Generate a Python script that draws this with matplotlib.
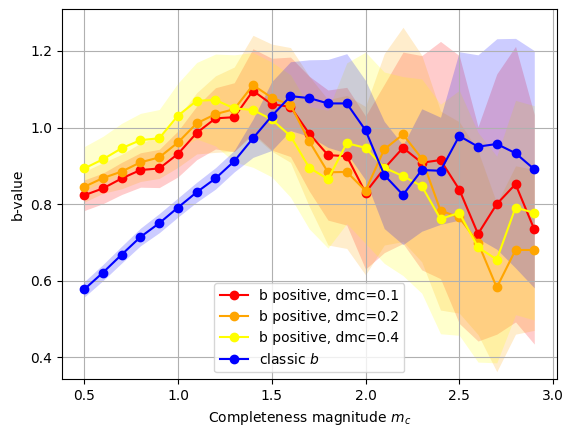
import numpy as np
import matplotlib
matplotlib.use('Agg')
import matplotlib.pyplot as plt

mc = [0.5, 0.6, 0.7, 0.8, 0.9, 1.0, 1.1, 1.2, 1.3, 1.4, 1.5, 1.6, 1.7,
      1.8, 1.9, 2.0, 2.1, 2.2, 2.3, 2.4, 2.5, 2.6, 2.7, 2.8, 2.9]

# b positive, dmc=0.1
b_pos_01 = [0.823, 0.841, 0.867, 0.889, 0.893, 0.931, 0.986, 1.024, 1.027, 1.096,
            1.061, 1.054, 0.984, 0.928, 0.925, 0.830, 0.893, 0.947, 0.908, 0.915,
            0.838, 0.722, 0.800, 0.852, 0.734]
std_01 = [0.04, 0.04, 0.042, 0.045, 0.05, 0.06, 0.07, 0.08, 0.09, 0.11, 0.12, 0.13,
          0.15, 0.17, 0.18, 0.20, 0.22, 0.25, 0.28, 0.31, 0.35, 0.28, 0.34, 0.36, 0.30]

# b positive, dmc=0.2
b_pos_02 = [0.845, 0.868, 0.885, 0.909, 0.922, 0.961, 1.011, 1.035, 1.048, 1.111,
            1.078, 1.059, 0.964, 0.883, 0.884, 0.835, 0.943, 0.982, 0.919, 0.783,
            0.765, 0.699, 0.582, 0.680, 0.680]
std_02 = [0.04, 0.04, 0.045, 0.05, 0.055, 0.065, 0.08, 0.10, 0.11, 0.13, 0.14, 0.15,
          0.17, 0.19, 0.20, 0.22, 0.25, 0.28, 0.27, 0.26, 0.25, 0.24, 0.22, 0.22, 0.21]

# b positive, dmc=0.4
b_pos_04 = [0.893, 0.917, 0.946, 0.967, 0.972, 1.031, 1.070, 1.072, 1.050, 1.046,
            1.021, 0.978, 0.895, 0.865, 0.959, 0.947, 0.895, 0.873, 0.847, 0.761,
            0.777, 0.687, 0.655, 0.791, 0.777]
std_04 = [0.057, 0.06, 0.065, 0.07, 0.075, 0.085, 0.10, 0.12, 0.14, 0.15, 0.15, 0.16,
          0.16, 0.18, 0.21, 0.25, 0.25, 0.26, 0.28, 0.30, 0.32, 0.30, 0.27, 0.28, 0.28]

# classic b
b_classic = [0.577, 0.621, 0.668, 0.714, 0.750, 0.791, 0.831, 0.867, 0.912, 0.972,
             1.030, 1.082, 1.077, 1.063, 1.063, 0.993, 0.876, 0.824, 0.889, 0.887,
             0.978, 0.950, 0.957, 0.933, 0.891]
std_classic = [0.02, 0.021, 0.022, 0.023, 0.025, 0.025, 0.026, 0.028, 0.028, 0.05,
               0.09, 0.09, 0.10, 0.115, 0.13, 0.13, 0.14, 0.13, 0.16, 0.14,
               0.22, 0.24, 0.275, 0.30, 0.31]

series = [
    (b_pos_01, std_01, 'red', 'b positive, dmc=0.1'),
    (b_pos_02, std_02, 'orange', 'b positive, dmc=0.2'),
    (b_pos_04, std_04, 'yellow', 'b positive, dmc=0.4'),
    (b_classic, std_classic, 'blue', 'classic $b$'),
]

fig = plt.figure(figsize=(5.74, 4.36), dpi=100)
ax = fig.add_axes([0.1075, 0.130, 0.8625, 0.8487])

x = np.array(mc)
for b, s, c, lab in series:
    b = np.array(b)
    s = np.array(s)
    ax.plot(x, b, 'o-', color=c, label=lab)
    ax.fill_between(x, b - s, b + s, color=c, alpha=0.2, linewidth=0)

ax.set_xlim(0.38, 3.02)
ax.set_ylim(0.342, 1.309)
ax.set_xlabel('Completeness magnitude $m_c$')
ax.set_ylabel('b-value')
ax.grid(True)
ax.legend(loc='lower center')

fig.savefig('out.png', dpi=100)
